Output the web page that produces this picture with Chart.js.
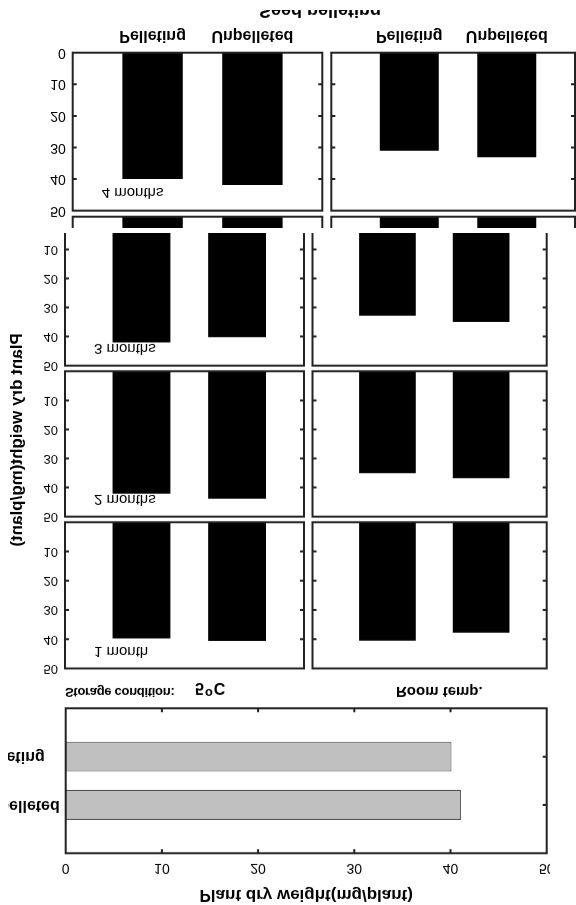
<!DOCTYPE html>
<html>
<head>
<meta charset="utf-8">
<script src="https://cdn.jsdelivr.net/npm/chart.js@4.4.1/dist/chart.umd.min.js"></script>
<style>
  html, body { margin: 0; padding: 0; background: #fff; overflow: hidden; }
  /* the reference is printed upside down, so the whole sheet is mirrored vertically */
  #page { position: relative; width: 576px; height: 905px; overflow: hidden; transform: scaleY(-1);
          font-family: "Liberation Sans", Arial, sans-serif; color: #000; background: #fff; }
  #page canvas { position: absolute; }
  .txt { position: absolute; white-space: nowrap; font-weight: bold; }
  .clip { position: absolute; overflow: hidden; }
  #cover { position: absolute; left: 0; top: 672px; width: 576px; height: 233px; background: #fff; }
  sup { font-size: 80%; }
</style>
</head>
<body>
<div id="page">
  <div class="clip" id="hbarClip" style="left:8px; top:0; width:542px; height:215px;"></div>
  <div class="txt" style="left:65px; top:207px; font-size:13px; line-height:12px; letter-spacing:-0.3px;">Storage condition:</div>
  <div class="txt" style="left:195px; top:205px; font-size:16px; line-height:14px; letter-spacing:1px;">5<sup>o</sup>C</div>
  <div class="txt" style="left:396px; top:206px; font-size:15px; line-height:14px;">Room temp.</div>
  <div class="txt" style="left:-113px; top:455px; width:260px; height:20px; line-height:20px; font-size:17px; text-align:center; transform:rotate(-90deg);">Plant dry weight(mg/plant)</div>
</div>
<script>
// DATA - plant dry weight (mg/plant), order follows seedTypes
const seedTypes = ['Pelleting', 'Unpelleted'];
const storagePeriods = ['1 month', '2 months', '3 months', '4 months'];
const beforeStorage = [40.1, 41.1];
const cold1Month = [39.7, 40.6];
const room1Month = [40.5, 37.8];
const cold2Month = [42.1, 43.8];
const room2Month = [35.1, 36.8];
const cold3Month = [42.0, 40.2];
const room3Month = [32.8, 35.0];
const cold4Month = [40.0, 41.9];
const room4Month = [31.0, 33.1];
const weightTicks = [0, 10, 20, 30, 40, 50];
const panelTicks = [10, 20, 30, 40, 50];
const innerTicks = [10, 20, 30, 40];

const FONT = '"Liberation Sans", Arial, sans-serif';
Chart.defaults.font.family = FONT;
Chart.defaults.color = '#000';

const page = document.getElementById('page');

// box around the plot area with short inward ticks
const frame = {
  id: 'frame',
  defaults: { color: '#222', width: 2, tick: 4, marks: [] },
  afterDatasetsDraw(chart, args, o) {
    const { ctx, chartArea: a } = chart;
    ctx.save();
    ctx.strokeStyle = o.color;
    ctx.lineWidth = o.width;
    ctx.strokeRect(a.left, a.top, a.right - a.left, a.bottom - a.top);
    ctx.beginPath();
    o.marks.forEach(m => {
      const s = chart.scales[m.axis];
      m.values.forEach(v => {
        const p = s.getPixelForValue(v);
        m.sides.forEach(side => {
          if (side === 'left') { ctx.moveTo(a.left, p); ctx.lineTo(a.left + o.tick, p); }
          if (side === 'right') { ctx.moveTo(a.right, p); ctx.lineTo(a.right - o.tick, p); }
          if (side === 'top') { ctx.moveTo(p, a.top); ctx.lineTo(p, a.top + o.tick); }
          if (side === 'bottom') { ctx.moveTo(p, a.bottom); ctx.lineTo(p, a.bottom - o.tick); }
        });
      });
    });
    ctx.stroke();
    ctx.restore();
  }
};

// "1 month" etc. written inside the panel
const panelLabel = {
  id: 'panelLabel',
  defaults: { text: '', size: 15, dx: 29, at: 44 },
  afterDatasetsDraw(chart, args, o) {
    if (!o.text) return;
    const { ctx, chartArea: a, scales: { y } } = chart;
    ctx.save();
    ctx.font = o.size + 'px ' + FONT;
    ctx.fillStyle = '#000';
    ctx.textBaseline = 'middle';
    ctx.fillText(o.text, a.left + o.dx, y.getPixelForValue(o.at));
    ctx.restore();
  }
};
Chart.register(frame, panelLabel);

function addCanvas(parent, box) {
  const c = document.createElement('canvas');
  c.width = box.w; c.height = box.h;
  c.style.left = box.x + 'px'; c.style.top = box.y + 'px';
  parent.appendChild(c);
  return c;
}

// one storage panel: col gives plot left/right + canvas x/width, row gives plot top/bottom + canvas top/bottom
function panel(parent, col, row, values, o) {
  const box = { x: col.x, y: row.y0, w: col.w, h: row.y1 - row.y0 };
  const canvas = addCanvas(parent, box);
  return new Chart(canvas, {
    type: 'bar',
    data: {
      datasets: [{
        data: values.map((v, i) => ({ x: i + 1, y: v })),
        backgroundColor: '#000', borderWidth: 0,
        categoryPercentage: 1, barPercentage: 0.605
      }]
    },
    options: {
      responsive: false, animation: false, events: [],
      layout: { padding: { left: 0, top: row.t - box.y, right: box.x + box.w - col.r, bottom: 0 } },
      plugins: {
        legend: { display: false }, tooltip: { enabled: false },
        frame: { marks: [{ axis: 'y', values: innerTicks, sides: ['left', 'right'] }] },
        panelLabel: { text: o.label || '', size: 15 }
      },
      scales: {
        x: {
          type: 'linear', min: 0.2, max: 2.7, offset: false,
          grid: { display: false, drawTicks: false }, border: { display: false },
          afterBuildTicks: s => { s.ticks = seedTypes.map((_, i) => ({ value: i + 1 })); },
          ticks: {
            display: !!o.cats, autoSkip: false, maxRotation: 0, padding: 8,
            font: { size: 16, weight: 'bold' }, callback: v => seedTypes[v - 1]
          },
          afterFit: s => { s.height = box.y + box.h - row.b; s.paddingLeft = 0; s.paddingRight = 0; }
        },
        y: {
          min: 0, max: 50,
          grid: { display: false, drawTicks: false }, border: { display: false },
          afterBuildTicks: s => { s.ticks = (o.yTicks || panelTicks).map(v => ({ value: v })); },
          ticks: { display: !!o.yTicks, padding: 7, font: { size: o.tickSize || 13 } },
          afterFit: s => { s.width = col.l - box.x; s.paddingTop = 0; s.paddingBottom = 0; }
        }
      }
    }
  });
}

// ---- overall plant dry weight (horizontal bars), cropped at x = 8 and 550 ----
(function () {
  const clip = document.getElementById('hbarClip');
  const box = { x: -30, y: 0, w: 572, h: 215 };           // relative to the crop box (page x = -22)
  const area = { l: 57.7, r: 538.7, t: 51.7, b: 196.7 };   // page x 65.7 .. 546.7
  const canvas = addCanvas(clip, box);
  new Chart(canvas, {
    type: 'bar',
    data: {
      datasets: [{
        data: beforeStorage.map((v, i) => ({ x: v, y: i + 1 })),
        backgroundColor: '#c0c0c0', borderColor: '#4a4a4a', borderWidth: 1,
        categoryPercentage: 1, barPercentage: 0.62
      }]
    },
    options: {
      indexAxis: 'y', responsive: false, animation: false, events: [],
      layout: { padding: { left: 0, top: 0, right: box.x + box.w - area.r, bottom: box.y + box.h - area.b } },
      plugins: {
        legend: { display: false }, tooltip: { enabled: false },
        frame: { marks: [
          { axis: 'x', values: innerTicks, sides: ['top', 'bottom'] },
          { axis: 'y', values: [1, 2], sides: ['right'] }
        ] },
        panelLabel: false
      },
      scales: {
        x: {
          type: 'linear', position: 'top', min: 0, max: 50,
          grid: { display: false, drawTicks: false }, border: { display: false },
          afterBuildTicks: s => { s.ticks = weightTicks.map(v => ({ value: v })); },
          ticks: { padding: 6, autoSkip: false, maxRotation: 0, font: { size: 14 } },
          title: { display: true, text: 'Plant dry weight(mg/plant)', padding: 0, font: { size: 17, weight: 'bold' } },
          afterFit: s => { s.height = area.t - box.y; s.paddingLeft = 0; s.paddingRight = 0; }
        },
        y: {
          type: 'linear', min: 0, max: 3, offset: false,
          grid: { display: false, drawTicks: false }, border: { display: false },
          afterBuildTicks: s => { s.ticks = seedTypes.map((_, i) => ({ value: i + 1 })); },
          ticks: { crossAlign: 'far', padding: 0, font: { size: 16, weight: 'bold' }, callback: v => seedTypes[v - 1] },
          afterFit: s => { s.width = area.l - box.x; s.paddingTop = 0; s.paddingBottom = 0; }
        }
      }
    }
  });
})();

// ---- storage panels, small print ----
const smallCold = { l: 65, r: 304, x: 20, w: 290 };
const smallRoom = { l: 312.5, r: 546.7, x: 300, w: 250 };
const smallRows = [
  { t: 236.5, b: 382.7, y0: 226, y1: 393 },
  { t: 388.3, b: 533.7, y0: 378, y1: 544 },
  { t: 539.3, b: 684.7, y0: 529, y1: 695 }
];
const coldSeries = [cold1Month, cold2Month, cold3Month];
const roomSeries = [room1Month, room2Month, room3Month];
smallRows.forEach((row, i) => {
  panel(page, smallCold, row, coldSeries[i], { yTicks: panelTicks, tickSize: 13, label: storagePeriods[i] });
  panel(page, smallRoom, row, roomSeries[i], {});
});

// ---- 4 months, larger print pasted over the top ----
const cover = document.createElement('div');
cover.id = 'cover';
page.appendChild(cover);

const bigCold = { l: 72.7, r: 322.3, x: 20, w: 306 };
const bigRoom = { l: 331.3, r: 575, x: 326, w: 250 };

// top edge of the 3 months panel that shows under it
const sliver = document.createElement('div');
sliver.className = 'clip';
sliver.style.cssText = 'left:0; top:677px; width:576px; height:13px;';
page.appendChild(sliver);
const sliverRow = { t: -146.7, b: 11.3, y0: -157, y1: 18 };
panel(sliver, bigCold, sliverRow, cold3Month, {});
panel(sliver, bigRoom, sliverRow, room3Month, {});

const bigRow = { t: 694.3, b: 852.3, y0: 684, y1: 905 };
panel(page, bigCold, bigRow, cold4Month, { yTicks: weightTicks, tickSize: 14, cats: true, label: storagePeriods[3] });
panel(page, bigRoom, bigRow, room4Month, { cats: true });

// axis title of the lower panels, cut by the edge of the print
const seedClip = document.createElement('div');
seedClip.className = 'clip';
seedClip.style.cssText = 'left:0; top:885px; width:576px; height:10px;';
const seedTitle = document.createElement('div');
seedTitle.className = 'txt';
seedTitle.style.cssText = 'left:220px; top:0; width:200px; text-align:center; font-size:18px; line-height:18px;';
seedTitle.textContent = 'Seed pelleting';
seedClip.appendChild(seedTitle);
page.appendChild(seedClip);
</script>
</body>
</html>
